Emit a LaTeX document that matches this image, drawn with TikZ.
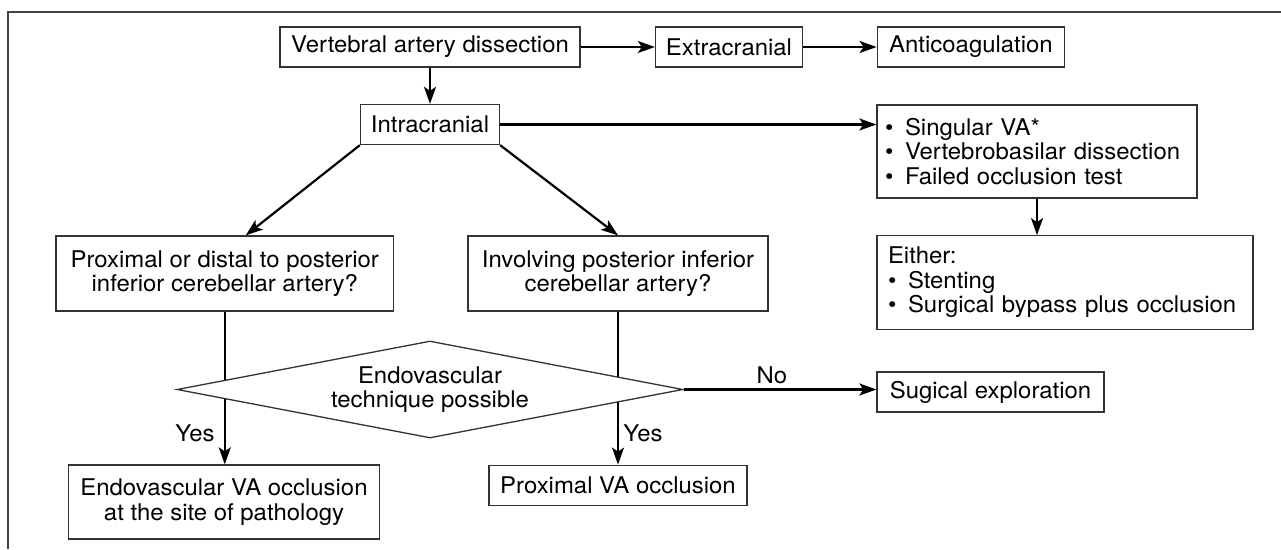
\documentclass[tikz,border=0pt]{standalone}
\usepackage{fontspec}
\setmainfont[FakeStretch=1.04]{TeX Gyre Heros}
\usetikzlibrary{arrows.meta,shapes.geometric}
\definecolor{boxgray}{HTML}{333333}
\definecolor{framegray}{HTML}{444444}
\newcommand{\bul}{\hspace*{4pt}\makebox[20pt][l]{\textbullet}}
\begin{document}
\begin{tikzpicture}[x=1pt,y=-1pt,
  every node/.style={font=\fontsize{23}{24.5}\selectfont, text=black},
  bx/.style={draw=boxgray, line width=1.3pt, align=center, inner sep=0pt},
  conn/.style={line width=2.2pt, -{Stealth[length=17pt,width=12pt,inset=4pt]}},
  lbl/.style={inner sep=0pt}]
\useasboundingbox (0,0) rectangle (1281,549);
\draw[framegray, line width=1.5pt] (8,549) -- (8,12) -- (1281,12);

\node[bx, minimum width=300pt, minimum height=40pt] (vad) at (430,47) {Vertebral artery dissection};
\node[bx, minimum width=147pt, minimum height=40pt] (extra) at (729,47) {Extracranial};
\node[bx, minimum width=187.5pt, minimum height=40pt] (anti) at (971,47) {Anticoagulation};
\node[bx, minimum width=139pt, minimum height=40pt] (intra) at (430,124.5) {Intracranial};
\node[bx, minimum width=320pt, minimum height=93pt, text width=312pt, align=left] (sing) at (1037,151.5)
  {\bul Singular VA*\\\bul Vertebrobasilar dissection\\\bul Failed occlusion test};
\node[bx, minimum width=376pt, minimum height=93.5pt, text width=362pt, align=left] (either) at (1065,282.5)
  {\hspace*{4pt}Either:\\\bul Stenting\\\bul Surgical bypass plus occlusion};
\node[bx, minimum width=337.5pt, minimum height=75pt] (prox) at (224.75,273.5)
  {Proximal or distal to posterior\\inferior cerebellar artery?};
\node[bx, minimum width=300pt, minimum height=75pt] (invol) at (618,273.5)
  {Involving posterior inferior\\cerebellar artery?};
\node[bx, minimum width=311pt, minimum height=74pt] (endo) at (224,502)
  {Endovascular VA occlusion\\at the site of pathology};
\node[bx, minimum width=258pt, minimum height=40.5pt] (pva) at (618,485.5) {Proximal VA occlusion};
\node[bx, minimum width=227pt, minimum height=40pt] (sug) at (990.5,392) {Sugical exploration};

\draw[conn] (vad) -- (extra);
\draw[conn] (extra) -- (anti);
\draw[conn] (vad) -- (intra);
\draw[conn] (intra.east) -- (intra.east -| sing.west);
\draw[conn] (intra.south west) -- ([xshift=21pt]prox.north);
\draw[conn] (intra.south east) -- (invol.north);
\draw[conn] (sing.south) -- (sing.south |- either.north);
\draw[conn] (prox.south) -- (prox.south |- endo.north);
\draw[conn] (invol.south) -- (invol.south |- pva.north);

\node[diamond, draw=boxgray, line width=1.3pt, fill=white, align=center, inner sep=0pt,
  shape aspect=5.2, minimum width=506pt, minimum height=97pt] (dia) at (430,389.5)
  {Endovascular\\technique possible};
\draw[conn] (dia.east) -- (dia.east -| sug.west);

\node[lbl] (no) at (772,375) {No};
\node[lbl] (yes1) at (195,433) {Yes};
\node[lbl] (yes2) at (643,433) {Yes};
\end{tikzpicture}
\end{document}
